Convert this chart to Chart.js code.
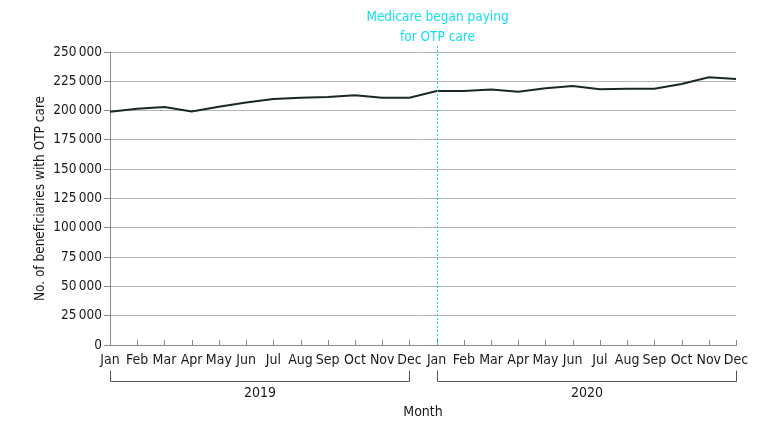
<!DOCTYPE html>
<html>
<head>
<meta charset="utf-8">
<script src="https://cdn.jsdelivr.net/npm/chart.js@4"></script>
<style>
html,body{margin:0;padding:0;background:#fff;}
#wrap{width:780px;height:432px;position:relative;}
</style>
</head>
<body>
<div id="wrap"><canvas id="c" width="780" height="432"></canvas></div>
<script>
const months = ['Jan','Feb','Mar','Apr','May','Jun','Jul','Aug','Sep','Oct','Nov','Dec',
                'Jan','Feb','Mar','Apr','May','Jun','Jul','Aug','Sep','Oct','Nov','Dec'];
const years = ['2019','2020'];
const beneficiaries = [199000, 201500, 203000, 199200, 203200, 207000, 209800, 211000, 211700, 213000, 211000, 211000,
                       216800, 216800, 218000, 216000, 219000, 221000, 218300, 218700, 218700, 222700, 228500, 227000];
const yTicks = [0, 25000, 50000, 75000, 100000, 125000, 150000, 175000, 200000, 225000, 250000];
const annotationLines = ['Medicare began paying', 'for OTP care'];
const annotationIndex = 12;

const FONT = "'Liberation Sans Narrow','DejaVu Sans Condensed','Noto Sans',sans-serif";
const TXT = '#1a1a1a';
const CYAN = '#14dff0';

function fmt(v){
  const s = String(v);
  if (s.length <= 3) return s;
  return s.slice(0, s.length - 3) + '\u2009' + s.slice(-3);
}

const extras = {
  id: 'extras',
  afterDraw(chart){
    const ctx = chart.ctx;
    const x = chart.scales.x;
    const area = chart.chartArea;
    ctx.save();
    ctx.strokeStyle = '#8a8a8a';
    ctx.lineWidth = 1;
    for (let i = 0; i < months.length; i++){
      const px = Math.round(x.getPixelForValue(i)) + 0.5;
      ctx.beginPath();
      ctx.moveTo(px, area.bottom);
      ctx.lineTo(px, area.bottom - 5);
      ctx.stroke();
    }
    const ax = Math.round(x.getPixelForValue(annotationIndex)) + 0.5;
    ctx.strokeStyle = CYAN;
    ctx.setLineDash([2, 2]);
    ctx.beginPath();
    ctx.moveTo(ax, area.top - 6);
    ctx.lineTo(ax, area.bottom);
    ctx.stroke();
    ctx.setLineDash([]);
    ctx.fillStyle = CYAN;
    ctx.font = '13.5px ' + FONT;
    ctx.textAlign = 'center';
    ctx.textBaseline = 'middle';
    annotationLines.forEach((t, i) => ctx.fillText(t, ax, 17 + i * 20));
    ctx.strokeStyle = '#555';
    ctx.fillStyle = TXT;
    ctx.font = '14px ' + FONT;
    years.forEach((yr, k) => {
      const x0 = Math.round(x.getPixelForValue(k * 12)) + 0.5;
      const x1 = Math.round(x.getPixelForValue(k * 12 + 11)) + 0.5;
      const by = 381.5;
      ctx.beginPath();
      ctx.moveTo(x0, by - 11);
      ctx.lineTo(x0, by);
      ctx.lineTo(x1, by);
      ctx.lineTo(x1, by - 11);
      ctx.stroke();
      ctx.fillText(yr, (x0 + x1) / 2, 393);
    });
    ctx.fillText('Month', (area.left + area.right) / 2, 412);
    ctx.restore();
  }
};

new Chart(document.getElementById('c'), {
  type: 'line',
  data: {
    labels: months,
    datasets: [{
      data: beneficiaries,
      borderColor: '#1b2626',
      borderWidth: 2,
      pointRadius: 0,
      tension: 0,
      fill: false
    }]
  },
  options: {
    responsive: false,
    animation: false,
    events: [],
    layout: { padding: { top: 52, right: 44, left: 0, bottom: 0 } },
    plugins: { legend: { display: false }, tooltip: { enabled: false } },
    scales: {
      x: {
        type: 'category',
        offset: false,
        grid: { display: true, drawOnChartArea: false, drawTicks: false, color: '#8a8a8a' },
        border: { display: true, color: '#8a8a8a' },
        ticks: { autoSkip: false, maxRotation: 0, padding: 7, color: TXT, font: { family: FONT, size: 14 } },
        afterFit(s){ s.height = 87; }
      },
      y: {
        min: 0, max: 250000,
        afterBuildTicks(s){ s.ticks = yTicks.map(v => ({ value: v })); },
        grid: { color: '#b4b4b4', tickLength: 6, tickColor: '#8a8a8a' },
        border: { display: true, color: '#8a8a8a' },
        ticks: { padding: 2, color: TXT, font: { family: FONT, size: 13.5 }, callback: v => fmt(v) },
        title: { display: true, text: 'No. of beneficiaries with OTP care', color: TXT, font: { family: FONT, size: 13.5 }, padding: { top: 32, bottom: 0 } },
        afterFit(s){ s.width = 110; }
      }
    }
  },
  plugins: [extras]
});
</script>
</body>
</html>
